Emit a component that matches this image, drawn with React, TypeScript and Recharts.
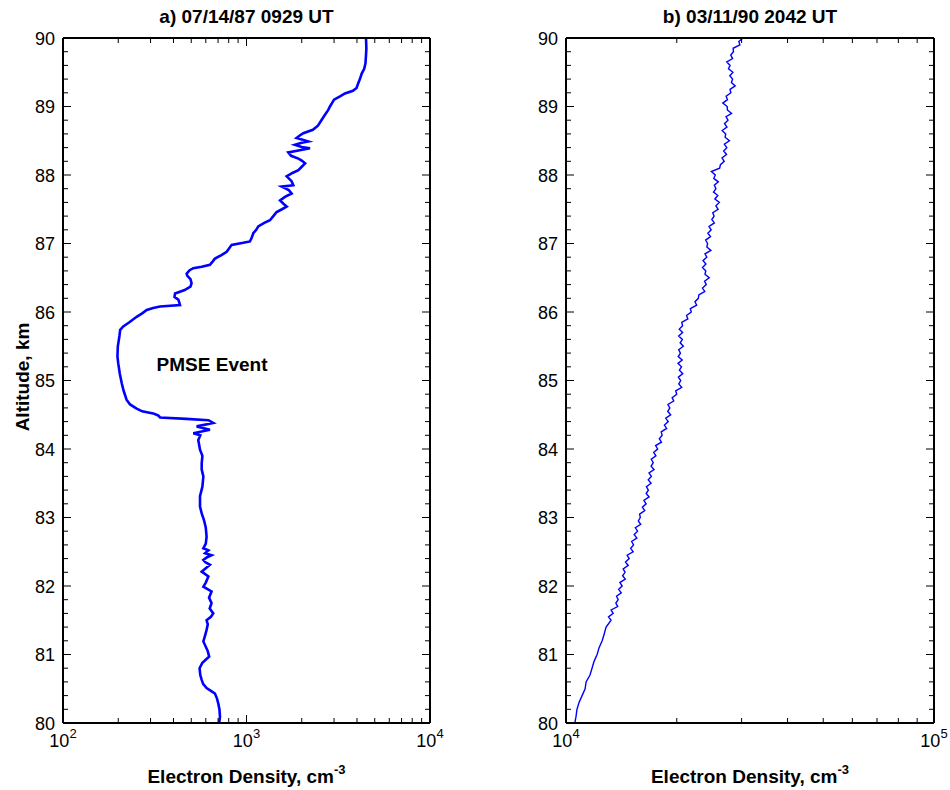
import React from 'react';
import { LineChart, Line, XAxis, YAxis, ReferenceDot } from 'recharts';

const FONT = '"Liberation Sans", Arial, Helvetica, sans-serif';
const BLUE = '#0000ff';

const TITLE_A = 'a) 07/14/87 0929 UT';
const TITLE_B = 'b) 03/11/90 2042 UT';
const Y_TITLE = 'Altitude, km';
const X_TITLE = 'Electron Density, cm';
const X_TITLE_EXP = '-3';
const NOTE = 'PMSE Event';

// altitude ticks: labels every km, small marks every 0.2 km
const ALT_LABELS = [80, 81, 82, 83, 84, 85, 86, 87, 88, 89, 90];
const ALT_TICKS = ALT_LABELS.flatMap((v, i) =>
  i === ALT_LABELS.length - 1 ? [v] : [0, 0.2, 0.4, 0.6, 0.8].map((d) => Math.round((v + d) * 10) / 10)
);

const DENS_TICKS_A = [100, 200, 300, 400, 500, 600, 700, 800, 900, 1000, 2000, 3000, 4000, 5000, 6000, 7000, 8000, 9000, 10000];
const DENS_LABELS_A = [100, 1000, 10000];
const DENS_TICKS_B = [10000, 20000, 30000, 40000, 50000, 60000, 70000, 80000, 90000, 100000];
const DENS_LABELS_B = [10000, 100000];

// note position (density, altitude)
const NOTE_N = 649;
const NOTE_ALT = 85.24;

// a) [altitude km, electron density cm^-3]
const PROFILE_A: [number, number][] = [
  [80.0, 710], [80.09, 717], [80.2, 712], [80.29, 701], [80.36, 690], [80.43, 673], [80.47, 640],
  [80.51, 606], [80.57, 580], [80.63, 570], [80.7, 560], [80.8, 555], [80.88, 575], [80.97, 626],
  [81.05, 615], [81.19, 582], [81.28, 595], [81.36, 606], [81.44, 615], [81.5, 606], [81.55, 640],
  [81.6, 659], [81.67, 630], [81.75, 645], [81.83, 625], [81.92, 645], [81.99, 582], [82.05, 600],
  [82.14, 620], [82.21, 570], [82.26, 600], [82.31, 632], [82.35, 595], [82.38, 582], [82.42, 610],
  [82.45, 645], [82.48, 595], [82.52, 620], [82.55, 582], [82.62, 600], [82.72, 606], [82.85, 600],
  [82.96, 587], [83.06, 570], [83.16, 558], [83.31, 558], [83.45, 575], [83.6, 582], [83.7, 570],
  [83.79, 570], [83.9, 575], [83.99, 558], [84.13, 546], [84.2, 560], [84.23, 513], [84.28, 632],
  [84.33, 535], [84.38, 659], [84.42, 620], [84.44, 470], [84.46, 338], [84.49, 330], [84.52, 310],
  [84.55, 270], [84.59, 252], [84.65, 232], [84.72, 222], [84.85, 214], [84.96, 209], [85.1, 204],
  [85.25, 200], [85.35, 198], [85.5, 199], [85.65, 203], [85.74, 205], [85.79, 213], [85.85, 230],
  [85.93, 252], [85.98, 270], [86.03, 286], [86.06, 310], [86.08, 338], [86.1, 434], [86.14, 430],
  [86.18, 425], [86.22, 405], [86.27, 408], [86.32, 460], [86.37, 495], [86.42, 502], [86.48, 495],
  [86.53, 475], [86.56, 472], [86.61, 490], [86.64, 513], [86.66, 570], [86.69, 632], [86.74, 655],
  [86.78, 673], [86.83, 730], [86.88, 780], [86.93, 805], [86.98, 830], [87.01, 960], [87.03, 1044],
  [87.09, 1070], [87.15, 1089], [87.2, 1130], [87.25, 1159], [87.3, 1250], [87.34, 1342], [87.4, 1400],
  [87.46, 1460], [87.5, 1560], [87.54, 1656], [87.58, 1590], [87.63, 1524], [87.68, 1620], [87.73, 1762],
  [87.78, 1700], [87.83, 1556], [87.85, 1800], [87.91, 1760], [87.98, 1656], [88.03, 1780], [88.07, 1918],
  [88.12, 2000], [88.17, 2086], [88.21, 2000], [88.24, 1918], [88.28, 1750], [88.33, 1690], [88.36, 1950],
  [88.39, 2218], [88.41, 2000], [88.44, 1837], [88.47, 2000], [88.49, 2172], [88.52, 2000], [88.54, 1876],
  [88.58, 1960], [88.61, 2040], [88.66, 2300], [88.72, 2450], [88.8, 2560], [88.86, 2650], [88.95, 2790],
  [89.0, 2850], [89.06, 2940], [89.1, 3000], [89.15, 3250], [89.19, 3440], [89.23, 3800], [89.27, 3980],
  [89.33, 4050], [89.4, 4150], [89.48, 4245], [89.55, 4380], [89.63, 4450], [89.75, 4480], [89.85, 4500],
  [90.0, 4480],
];

// b) [altitude km, electron density cm^-3]
const PROFILE_B: [number, number][] = [
  [80.0, 10570], [80.1, 10650], [80.2, 10710], [80.3, 10850], [80.4, 11060], [80.5, 11270], [80.6, 11340],
  [80.7, 11620], [80.8, 11770], [80.9, 11920], [81.0, 12150], [81.1, 12300], [81.2, 12540], [81.3, 12700],
  [81.4, 12850], [81.5, 13260], [81.55, 13050], [81.6, 13430], [81.65, 13260], [81.7, 13820], [81.75, 13660],
  [81.8, 13860], [81.85, 13720], [81.9, 14130], [81.95, 13900], [82.0, 14210], [82.05, 14010], [82.1, 14490],
  [82.15, 14250], [82.2, 14470], [82.25, 14300], [82.3, 14760], [82.35, 14510], [82.4, 14850], [82.45, 14660],
  [82.5, 15220], [82.55, 14990], [82.6, 15260], [82.65, 15080], [82.7, 15580], [82.75, 15320], [82.8, 15650],
  [82.85, 15430], [82.9, 15960], [82.95, 15720], [83.0, 15920], [83.05, 15850], [83.1, 16370], [83.15, 16130],
  [83.2, 16510], [83.25, 16280], [83.3, 16820], [83.35, 16510], [83.4, 16740], [83.45, 16540], [83.5, 17030],
  [83.55, 16730], [83.6, 17060], [83.65, 16810], [83.7, 17350], [83.75, 17030], [83.8, 17260], [83.85, 17050],
  [83.9, 17550], [83.95, 17310], [84.0, 17740], [84.05, 17520], [84.1, 18170], [84.15, 17930], [84.2, 18250],
  [84.25, 18140], [84.3, 18770], [84.35, 18510], [84.4, 18960], [84.45, 18660], [84.5, 19250], [84.55, 18900],
  [84.6, 19150], [84.65, 18920], [84.7, 19620], [84.75, 19430], [84.8, 19990], [84.85, 19870], [84.9, 20630],
  [84.95, 20250], [85.0, 20500], [85.05, 20200], [85.1, 20760], [85.15, 20330], [85.2, 20600], [85.25, 20150],
  [85.3, 20690], [85.35, 20180], [85.4, 20460], [85.45, 20240], [85.5, 20840], [85.55, 20430], [85.6, 20710],
  [85.65, 20240], [85.7, 20750], [85.75, 20310], [85.8, 20740], [85.85, 20630], [85.9, 21430], [85.95, 21260],
  [86.0, 21900], [86.05, 21770], [86.1, 22650], [86.15, 22410], [86.2, 22890], [86.25, 22960], [86.3, 23830],
  [86.35, 23490], [86.4, 24050], [86.45, 23800], [86.5, 24500], [86.55, 23860], [86.6, 23980], [86.65, 23500],
  [86.7, 24000], [86.75, 23570], [86.8, 24130], [86.85, 23860], [86.9, 24760], [86.95, 24140], [87.0, 24250],
  [87.05, 23960], [87.1, 24700], [87.15, 24290], [87.2, 24800], [87.25, 24470], [87.3, 25300], [87.35, 24900],
  [87.4, 25260], [87.45, 25050], [87.5, 25900], [87.55, 25550], [87.6, 26100], [87.65, 25380], [87.7, 25850],
  [87.75, 25170], [87.8, 25550], [87.85, 25300], [87.9, 25940], [87.95, 25210], [88.0, 25450], [88.05, 24830],
  [88.1, 26150], [88.15, 26280], [88.2, 26910], [88.25, 26540], [88.3, 27300], [88.35, 26820], [88.4, 27350],
  [88.45, 26930], [88.5, 27800], [88.55, 27060], [88.6, 27160], [88.65, 26570], [88.7, 27380], [88.75, 26960],
  [88.8, 27560], [88.85, 27220], [88.9, 28190], [88.95, 27450], [89.0, 27420], [89.05, 26670], [89.1, 27470],
  [89.15, 27240], [89.2, 28050], [89.25, 27910], [89.3, 28830], [89.35, 28150], [89.4, 28360], [89.45, 27870],
  [89.5, 28420], [89.55, 27640], [89.6, 27920], [89.65, 27350], [89.7, 28360], [89.75, 28030], [89.8, 28510],
  [89.85, 28460], [89.9, 29680], [89.95, 29490], [90.0, 30260],
];

const W = 475;
const H = 790;
const PLOT_TOP = 38;
const PLOT_BOTTOM = 723;

const MAJOR_LEN = 8;
const MINOR_LEN = 5;

const isMajorDens = (labels: number[], v: number) => labels.some((l) => Math.abs(l - v) < l * 1e-6);
const isMajorAlt = (v: number) => Math.abs(v - Math.round(v)) < 1e-6;

function densTick(side: 'bottom' | 'top', labels: number[]) {
  return (p: any) => {
    const { x, y, payload } = p;
    const v = payload.value;
    const major = isMajorDens(labels, v);
    const dir = side === 'bottom' ? -1 : 1;
    return (
      <g>
        <line x1={x} x2={x} y1={y} y2={y + dir * (major ? MAJOR_LEN : MINOR_LEN)} stroke="#000" strokeWidth={1} />
        {side === 'bottom' && major && (
          <text x={x} y={y + 24} textAnchor="middle" fontFamily={FONT} fontSize={18} fill="#000">
            10
            <tspan dy={-9} fontSize={13}>
              {Math.round(Math.log10(v))}
            </tspan>
          </text>
        )}
      </g>
    );
  };
}

function altTick(side: 'left' | 'right') {
  return (p: any) => {
    const { x, y, payload } = p;
    const v = payload.value;
    const major = isMajorAlt(v);
    const dir = side === 'left' ? 1 : -1;
    return (
      <g>
        <line x1={x} x2={x + dir * (major ? MAJOR_LEN : MINOR_LEN)} y1={y} y2={y} stroke="#000" strokeWidth={1} />
        {side === 'left' && major && (
          <text x={x - 8} y={y + 6.5} textAnchor="end" fontFamily={FONT} fontSize={18} fill="#000">
            {Math.round(v)}
          </text>
        )}
      </g>
    );
  };
}

const axisLine = { stroke: '#000', strokeWidth: 2 };

type PanelProps = {
  left: number;
  yAxisWidth: number;
  marginRight: number;
  data: { alt: number; n: number }[];
  domain: [number, number];
  ticks: number[];
  labels: number[];
  strokeWidth: number;
  note?: boolean;
};

function Panel({ left, yAxisWidth, marginRight, data, domain, ticks, labels, strokeWidth, note }: PanelProps) {
  return (
    <div style={{ position: 'absolute', left, top: 0 }}>
      <LineChart
        layout="vertical"
        width={W}
        height={H}
        data={data}
        margin={{ top: PLOT_TOP - 5, right: marginRight, bottom: H - PLOT_BOTTOM - 40, left: 0 }}
      >
        <XAxis
          xAxisId="bottom"
          orientation="bottom"
          type="number"
          scale="log"
          domain={domain}
          allowDataOverflow
          ticks={ticks}
          interval={0}
          height={40}
          tickSize={0}
          tickMargin={0}
          tickLine={false}
          axisLine={axisLine}
          tick={densTick('bottom', labels)}
        />
        <XAxis
          xAxisId="top"
          orientation="top"
          type="number"
          scale="log"
          domain={domain}
          allowDataOverflow
          ticks={ticks}
          interval={0}
          height={5}
          tickSize={0}
          tickMargin={0}
          tickLine={false}
          axisLine={axisLine}
          tick={densTick('top', labels)}
        />
        <YAxis
          yAxisId="left"
          orientation="left"
          type="number"
          dataKey="alt"
          domain={[80, 90]}
          reversed
          allowDataOverflow
          ticks={ALT_TICKS}
          interval={0}
          width={yAxisWidth}
          tickSize={0}
          tickMargin={0}
          tickLine={false}
          axisLine={axisLine}
          tick={altTick('left')}
        />
        <YAxis
          yAxisId="right"
          orientation="right"
          type="number"
          dataKey="alt"
          domain={[80, 90]}
          reversed
          allowDataOverflow
          ticks={ALT_TICKS}
          interval={0}
          width={5}
          tickSize={0}
          tickMargin={0}
          tickLine={false}
          axisLine={axisLine}
          tick={altTick('right')}
        />
        <Line
          xAxisId="bottom"
          yAxisId="left"
          dataKey="n"
          type="linear"
          stroke={BLUE}
          strokeWidth={strokeWidth}
          dot={false}
          activeDot={false}
          isAnimationActive={false}
        />
        {note && (
          <ReferenceDot
            xAxisId="bottom"
            yAxisId="left"
            x={NOTE_N}
            y={NOTE_ALT}
            r={0}
            fill="none"
            stroke="none"
            label={{ value: NOTE, position: 'center', fontFamily: FONT, fontSize: 19, fontWeight: 700, fill: '#000' }}
          />
        )}
      </LineChart>
    </div>
  );
}

const toRows = (p: [number, number][]) => p.map(([alt, n]) => ({ alt, n }));

export default function App() {
  const centerA = (63 + 430) / 2;
  const centerB = (566 + 934) / 2;
  const bold = { fontFamily: FONT, fontSize: 19, fontWeight: 700, fill: '#000' } as const;
  return (
    <div style={{ position: 'absolute', left: 0, top: 0, width: 950, height: 790, background: '#fff', overflow: 'hidden' }}>
      <Panel
        left={0}
        yAxisWidth={63}
        marginRight={W - 430 - 5}
        data={toRows(PROFILE_A)}
        domain={[100, 10000]}
        ticks={DENS_TICKS_A}
        labels={DENS_LABELS_A}
        strokeWidth={2.6}
        note
      />
      <Panel
        left={475}
        yAxisWidth={566 - 475}
        marginRight={W - (934 - 475) - 5}
        data={toRows(PROFILE_B)}
        domain={[10000, 100000]}
        ticks={DENS_TICKS_B}
        labels={DENS_LABELS_B}
        strokeWidth={1.4}
      />
      <svg width={950} height={790} style={{ position: 'absolute', left: 0, top: 0, pointerEvents: 'none' }}>
        <text x={centerA} y={23} textAnchor="middle" {...bold}>{TITLE_A}</text>
        <text x={centerB} y={23} textAnchor="middle" {...bold}>{TITLE_B}</text>
        <text x={29} y={377} textAnchor="middle" transform="rotate(-90 29 377)" {...bold}>{Y_TITLE}</text>
        <text x={centerA} y={783} textAnchor="middle" {...bold}>
          {X_TITLE}
          <tspan dy={-9} fontSize={13}>{X_TITLE_EXP}</tspan>
        </text>
        <text x={centerB} y={783} textAnchor="middle" {...bold}>
          {X_TITLE}
          <tspan dy={-9} fontSize={13}>{X_TITLE_EXP}</tspan>
        </text>
      </svg>
    </div>
  );
}
